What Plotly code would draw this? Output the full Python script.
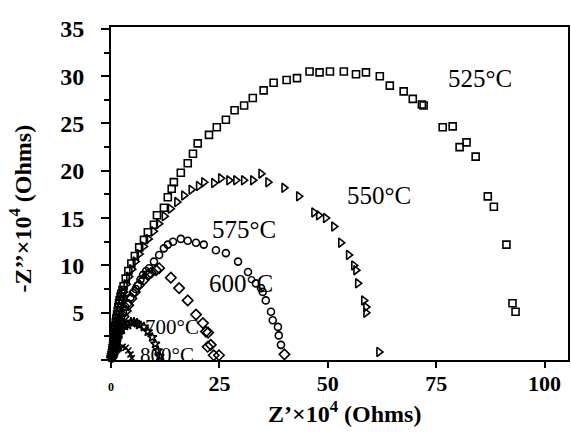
import plotly.graph_objects as go

# 525 °C (open squares)
x525 = [0.2,0.3,0.4,0.5,0.6,0.7,0.8,0.9,1.0,1.1,1.25,1.4,1.55,1.7,1.85,2.0,2.2,2.4,2.65,2.9,3.4,4.0,4.7,5.5,6.5,7.6,8.5,9.9,10.6,12.2,13.1,14.0,14.5,16.1,17.7,18.9,20.0,22.6,24.4,26.5,28.5,30.7,32.7,35.2,37.5,40.5,42.9,45.8,48.1,50.5,53.7,56.5,58.8,62.0,64.3,67.5,69.6,71.7,72.1,76.5,78.8,80.4,82.0,84.1,86.9,88.3,91.2,92.6,93.3]
y525 = [0.4,0.8,1.2,1.6,2.0,2.4,2.8,3.2,3.6,4.0,4.4,4.8,5.2,5.6,6.0,6.3,6.7,7.0,7.4,7.8,8.6,9.4,10.2,11.0,11.9,12.7,13.5,14.3,15.3,16.1,17.2,18.1,18.8,19.8,20.8,21.8,22.9,23.8,24.6,25.4,26.4,26.9,27.7,28.5,29.3,29.6,29.8,30.5,30.4,30.5,30.5,30.2,30.4,30.0,29.0,28.4,27.6,27.0,26.9,24.6,24.7,22.5,23.0,21.5,17.3,16.2,12.2,6.0,5.1]

# 550 °C (open right triangles)
x550 = [0.2,0.3,0.4,0.5,0.6,0.7,0.8,0.9,1.0,1.15,1.3,1.45,1.6,1.8,2.0,2.2,2.4,2.65,2.9,3.5,4.1,4.8,5.6,6.5,7.5,8.6,9.8,11.0,12.3,13.7,15.2,16.8,18.5,20.2,21.4,23.7,25.3,27.2,28.8,30.6,32.7,34.6,36.2,39.9,43.3,46.8,47.9,49.5,51.4,53.0,54.8,56.0,56.5,56.9,58.3,58.8,58.8,61.8]
y550 = [0.5,0.8,1.1,1.5,1.8,2.1,2.5,2.8,3.2,3.6,4.0,4.4,4.8,5.2,5.6,6.0,6.4,6.8,7.2,8.0,8.8,9.6,10.4,11.2,12.0,12.8,13.6,14.4,15.2,16.0,16.7,17.4,18.0,18.4,18.8,18.7,19.2,19.0,19.0,19.0,19.0,19.7,18.8,18.2,17.3,15.6,15.3,15.0,14.1,12.4,11.1,10.0,9.5,8.1,6.3,5.6,5.0,0.85]

# 575 °C (open circles)
x575 = [0.2,0.3,0.4,0.5,0.6,0.7,0.8,0.95,1.1,1.25,1.4,1.6,1.8,2.05,2.3,2.8,3.3,3.9,4.5,5.1,5.7,6.2,6.8,7.4,8.1,8.8,9.9,11.1,12.2,13.1,14.3,16.1,17.7,19.6,21.4,24.2,26.5,29.3,31.6,33.4,34.6,35.0,35.7,36.9,37.3,38.5,38.7,39.2]
y575 = [0.4,0.65,0.9,1.15,1.4,1.7,2.0,2.3,2.6,2.9,3.2,3.5,3.8,4.15,4.5,5.0,5.6,6.0,6.6,7.1,7.5,7.9,8.5,9.0,9.4,9.7,10.4,11.1,11.8,12.2,12.5,12.8,12.6,12.4,12.2,11.6,11.3,10.4,9.3,8.1,7.6,7.2,6.3,5.1,4.2,3.5,2.6,1.6]

# 600 °C (open diamonds)
x600 = [0.2,0.3,0.4,0.5,0.6,0.7,0.8,0.9,1.0,1.15,1.3,1.45,1.6,1.8,2.0,2.4,2.9,3.4,4.0,4.7,5.5,6.4,7.6,8.5,9.2,10.4,11.1,13.8,15.7,17.7,19.6,21.2,21.9,22.4,22.3,23.0,23.7,24.9,40.0]
y600 = [0.3,0.5,0.7,0.9,1.1,1.35,1.6,1.8,2.0,2.25,2.5,2.75,3.0,3.25,3.5,4.0,4.6,5.2,5.8,6.5,7.2,7.9,8.5,9.0,9.2,9.5,9.7,8.7,7.6,6.3,4.8,3.9,3.0,2.9,1.4,1.6,0.5,0.5,0.6]

# 700 °C
x700 = [0.2,0.3,0.4,0.55,0.7,0.85,1.0,1.2,1.4,1.9,2.5,3.2,3.9,4.6,5.3,6.0,6.5,7.6,8.5,9.5,10.2,10.8,11.2]
y700 = [0.3,0.5,0.7,0.95,1.2,1.45,1.7,1.95,2.2,2.7,3.2,3.6,3.7,4.0,4.0,3.9,3.7,3.5,3.0,2.4,1.7,1.0,0.4]

# 800 °C
x800 = [0.1,0.2,0.3,0.5,0.7,0.9,1.1,1.4,1.7,2.0,2.7,3.4,4.0,4.5,4.8]
y800 = [0.1,0.2,0.35,0.5,0.65,0.8,0.95,1.1,1.2,1.3,1.4,1.3,1.0,0.6,0.2]

labels = ["525°C", "550°C", "575°C", "600°C", "700°C", "800°C"]
label_x = [85.0, 61.8, 30.6, 30.0, 14.0, 12.8]
label_y = [29.8, 17.4, 13.8, 8.1, 3.5, 0.55]
label_size = [25, 25, 25, 25, 21, 21]

xticks = [0, 25, 50, 75, 100]
xtick_text = ["<span style='font-size:12px'>0</span>", "25", "50", "75", "100"]
yticks = [0, 5, 10, 15, 20, 25, 30, 35]
ytick_text = ["", "5", "10", "15", "20", "25", "30", "35"]

series = [
    (x525, y525, "square-open", 7),
    (x550, y550, "triangle-right-open", 8),
    (x575, y575, "circle-open", 7),
    (x600, y600, "diamond-open", 8),
    (x700, y700, "star-open", 7),
    (x800, y800, "x-thin-open", 6),
]

fig = go.Figure()
for xs, ys, sym, sz in series:
    fig.add_trace(go.Scatter(
        x=xs, y=ys, mode="markers",
        marker=dict(symbol=sym, size=sz, color="black",
                    line=dict(color="black", width=1.6)),
        showlegend=False, cliponaxis=False))

for t, lx, ly, ls in zip(labels, label_x, label_y, label_size):
    fig.add_annotation(x=lx, y=ly, text=t, showarrow=False,
                       font=dict(family="Liberation Serif", size=ls, color="black"))

title_font = dict(family="Liberation Serif", size=24, color="black", weight="bold")
fig.add_annotation(xref="paper", yref="paper", x=0.512, y=-0.155,
                   text="Z’×10<sup>4</sup> (Ohms)", showarrow=False,
                   xanchor="center", yanchor="middle", font=title_font)
fig.add_annotation(xref="paper", yref="paper", x=-0.197, y=0.455,
                   text="-Z’’×10<sup>4</sup> (Ohms)", showarrow=False, textangle=-90,
                   xanchor="center", yanchor="middle", font=title_font)

fig.update_layout(
    width=571, height=435,
    margin=dict(l=111, r=3, t=27, b=75, autoexpand=False),
    paper_bgcolor="white", plot_bgcolor="white",
    font=dict(family="Liberation Serif", color="black"),
    xaxis=dict(
        range=[0, 105.4], tickvals=xticks, ticktext=xtick_text,
        showgrid=False, zeroline=False, automargin=False,
        showline=True, linecolor="black", linewidth=2, mirror=True,
        ticks="outside", ticklen=6, tickwidth=2, tickcolor="black",
        tickfont=dict(family="Liberation Serif", size=22, color="black", weight="bold"),
        ticklabelstandoff=-3,
    ),
    yaxis=dict(
        range=[0, 35.2], tickvals=yticks, ticktext=ytick_text,
        showgrid=False, zeroline=False, automargin=False,
        showline=True, linecolor="black", linewidth=2, mirror=True,
        ticks="outside", ticklen=8, tickwidth=2, tickcolor="black",
        minor=dict(dtick=2.5, ticks="outside", ticklen=5, tickwidth=2, tickcolor="black"),
        tickfont=dict(family="Liberation Serif", size=24, color="black", weight="bold"),
        ticklabelstandoff=12,
    ),
)

fig.write_html("out.html", config={"displayModeBar": False},
               post_script="document.body.style.margin='0';document.body.style.padding='0';document.body.style.overflow='hidden';")
